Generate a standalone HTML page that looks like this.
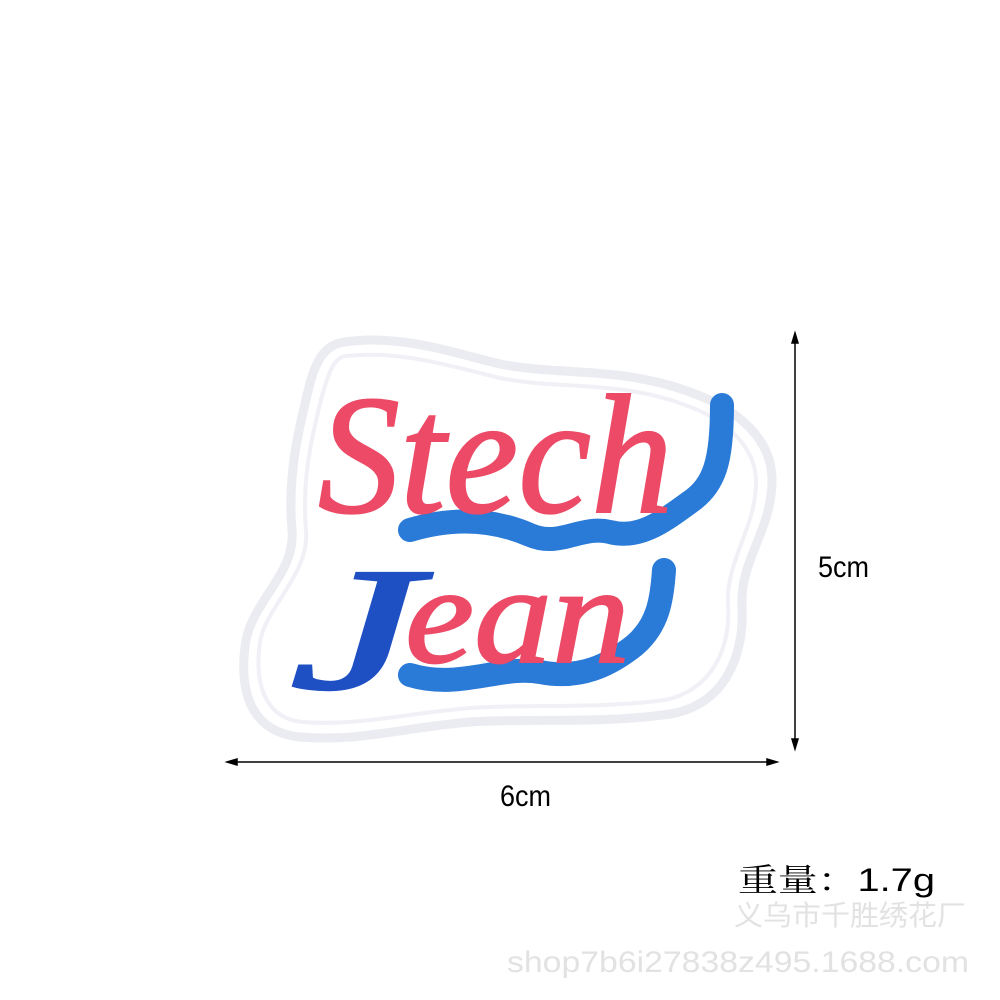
<!DOCTYPE html>
<html><head><meta charset="utf-8"><style>
html,body{margin:0;padding:0;background:#fff;width:1000px;height:1000px;overflow:hidden}
svg{display:block}
</style></head><body>
<svg width="1000" height="1000" viewBox="0 0 1000 1000">
  <g>
    <path d="M345,342 C400,334 450,352 500,364 C560,376 620,366 690,392 C740,410 772,440 772,480 C772,530 740,560 742,605 C745,655 725,705 670,714 C600,724 530,718 470,722 C400,728 360,742 300,737 C250,732 238,690 246,640 C254,600 296,572 292,530 C288,480 296,440 306,400 C314,360 325,344 345,342Z" fill="#fff" stroke="#ebebf2" stroke-width="9"/>
    <path d="M345,356 C400,350 450,366 500,378 C560,390 620,380 685,405 C728,420 756,448 756,482 C756,528 726,560 728,604 C731,648 712,690 665,700 C600,709 530,704 470,708 C400,714 360,726 302,722 C266,718 254,686 260,642 C266,606 310,574 306,530 C302,484 310,444 320,404 C328,372 334,358 345,356Z" fill="none" stroke="#f0f0f6" stroke-width="4"/>
    <path d="M410,530 C460,515 500,522 530,535 C560,548 580,525 610,532 C640,540 665,520 690,502 C715,485 722,460 722,405" fill="none" stroke="#2a7ad8" stroke-width="24" stroke-linecap="round"/>
    <path d="M410,675 C460,690 500,665 540,672 C580,680 610,665 635,645 C658,625 662,600 664,570" fill="none" stroke="#2a7ad8" stroke-width="24" stroke-linecap="round"/>
    <text x="318" y="512" font-family="Liberation Serif, serif" font-style="italic" font-size="170" fill="#ec4a66" stroke="#ec4a66" stroke-width="2" textLength="355" lengthAdjust="spacingAndGlyphs">Stech</text>
    <text x="290" y="688" font-family="Liberation Serif, serif" font-style="italic" font-size="175" fill="#1e50c4" stroke="#1e50c4" stroke-width="3" textLength="130" lengthAdjust="spacingAndGlyphs">J</text>
    <text x="405" y="662" font-family="Liberation Serif, serif" font-style="italic" font-size="140" fill="#ec4a66" stroke="#ec4a66" stroke-width="2" textLength="225" lengthAdjust="spacingAndGlyphs">ean</text>
  </g>
  <g stroke="#000" stroke-width="1.5">
    <line x1="795" y1="338" x2="795" y2="744"/>
    <path d="M795,333 L792,343 L798,343Z M795,749 L792,739 L798,739Z" fill="#000"/>
  </g>
  <text x="818" y="577" font-family="Liberation Sans, sans-serif" font-size="30" fill="#000" transform="translate(818 0) scale(0.9 1) translate(-818 0)">5cm</text>
  <g stroke="#000" stroke-width="1.5">
    <line x1="232" y1="762" x2="772" y2="762"/>
    <path d="M227,762 L237,759 L237,765Z M777,762 L767,759 L767,765Z" fill="#000"/>
  </g>
  <text x="500" y="806" font-family="Liberation Sans, sans-serif" font-size="30" fill="#000" transform="translate(500 0) scale(0.9 1) translate(-500 0)">6cm</text>
  <text x="738" y="891" font-family="Liberation Sans, 'Noto Serif CJK SC', sans-serif" font-size="32" fill="#000" textLength="197" lengthAdjust="spacingAndGlyphs">重量：1.7g</text>
  <text x="734" y="925" font-family="Liberation Sans, 'Noto Sans CJK SC', sans-serif" font-size="28" fill="#e2e2e2" textLength="232" lengthAdjust="spacingAndGlyphs">义乌市千胜绣花厂</text>
  <text x="507" y="972" font-family="Liberation Sans, sans-serif" font-size="30" fill="#e2e2e2" textLength="462" lengthAdjust="spacingAndGlyphs">shop7b6i27838z495.1688.com</text>
</svg>
</body></html>
